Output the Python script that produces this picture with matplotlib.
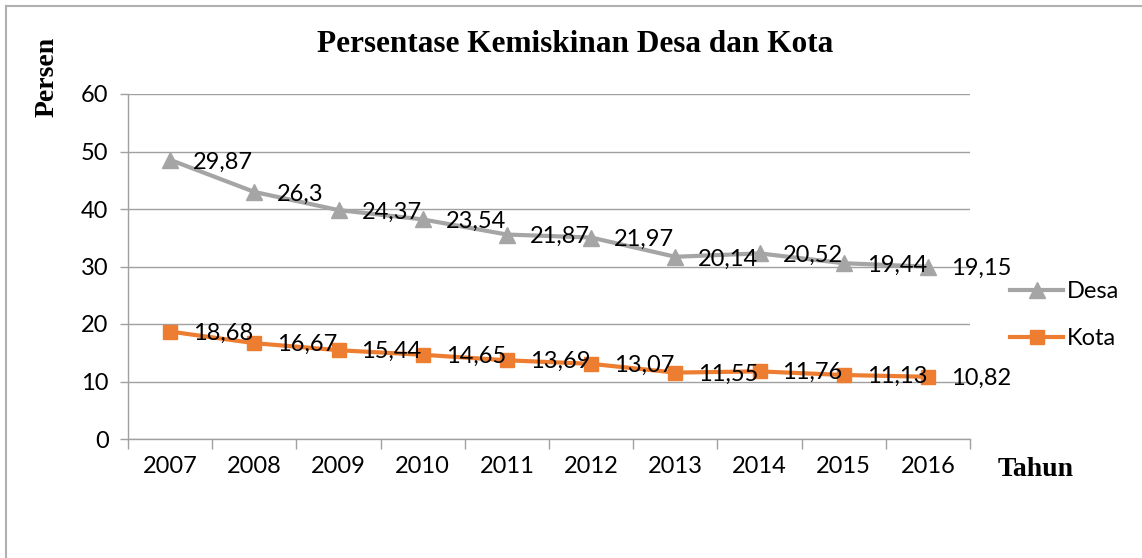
import matplotlib
matplotlib.use("Agg")
import matplotlib.pyplot as plt
from matplotlib.lines import Line2D
import numpy as np

years = ["2007", "2008", "2009", "2010", "2011", "2012", "2013", "2014", "2015", "2016"]
desa = [29.87, 26.3, 24.37, 23.54, 21.87, 21.97, 20.14, 20.52, 19.44, 19.15]
kota = [18.68, 16.67, 15.44, 14.65, 13.69, 13.07, 11.55, 11.76, 11.13, 10.82]
yticks = [0, 10, 20, 30, 40, 50, 60]

W, H = 1142, 558
fig = plt.figure(figsize=(W / 100, H / 100), dpi=100)
ax = fig.add_axes([128 / W, 1 - 439 / H, (970 - 128) / W, (439 - 94) / H])

FONT = "Lato"
FS = 17
GRAY = "#a5a5a5"
ORANGE = "#ed7d31"
GRID = "#a0a0a0"

x = np.arange(len(years))
kota_arr = np.array(kota)
desa_stacked = np.array(desa) + kota_arr  # stacked line chart

l1, = ax.plot(x, desa_stacked, color=GRAY, lw=3, marker="^", ms=11, zorder=3, label="Desa")
l2, = ax.plot(x, kota_arr, color=ORANGE, lw=3, marker="s", ms=10, zorder=3, label="Kota")

def fmt(v):
    return ("%g" % v).replace(".", ",")

for xi, yv, lab in zip(x, desa_stacked, desa):
    ax.annotate(fmt(lab), (xi, yv), xytext=(16.5, -1.5), textcoords="offset points",
                ha="left", va="center", fontsize=FS, family=FONT, color="black", zorder=4)
for xi, yv, lab in zip(x, kota_arr, kota):
    ax.annotate(fmt(lab), (xi, yv), xytext=(16.5, -1), textcoords="offset points",
                ha="left", va="center", fontsize=FS, family=FONT, color="black", zorder=4)

ax.set_xlim(-0.5, len(years) - 0.5)
ax.set_ylim(0, 60)
ax.set_yticks(yticks)
ax.set_yticklabels([str(t) for t in yticks], family=FONT, fontsize=FS)
ax.set_xticks(x)
ax.set_xticklabels(years, family=FONT, fontsize=FS)
ax.tick_params(axis="x", which="major", length=0, pad=12)
ax.set_xticks(np.arange(-0.5, len(years), 1.0), minor=True)
ax.tick_params(axis="x", which="minor", length=7, color=GRID, width=1)
ax.tick_params(axis="y", length=6, color=GRID, width=1, pad=8)
ax.yaxis.grid(True, color=GRID, lw=1)
ax.set_axisbelow(True)
for s in ["top", "right"]:
    ax.spines[s].set_visible(False)
for s in ["left", "bottom"]:
    ax.spines[s].set_color(GRID)
    ax.spines[s].set_linewidth(1)

fig.text(575 / W, 1 - 45 / H, "Persentase Kemiskinan Desa dan Kota", ha="center", va="center",
         family="Liberation Serif", fontweight="bold", fontsize=22.5)
fig.text(47 / W, 1 - 77 / H, "Persen", ha="center", va="center", rotation=90,
         family="Liberation Serif", fontweight="bold", fontsize=20)
fig.text(1036 / W, 1 - 470 / H, "Tahun", ha="center", va="center",
         family="Liberation Serif", fontweight="bold", fontsize=20)

leg = fig.legend(handles=[l1, l2], loc="upper left", bbox_to_anchor=(1010 / W, 1 - 281 / H),
                 frameon=False, prop={"family": FONT, "size": FS}, handlelength=2.25,
                 handletextpad=0.15, labelspacing=1.1, borderpad=0, borderaxespad=0)

# outer frame
fig.add_artist(Line2D([6 / W, 6 / W], [0, 1 - 6 / H], color="#b0b0b0", lw=1.5, transform=fig.transFigure))
fig.add_artist(Line2D([6 / W, 1], [1 - 6 / H, 1 - 6 / H], color="#b0b0b0", lw=1.5, transform=fig.transFigure))

fig.savefig("out.png", dpi=100)
